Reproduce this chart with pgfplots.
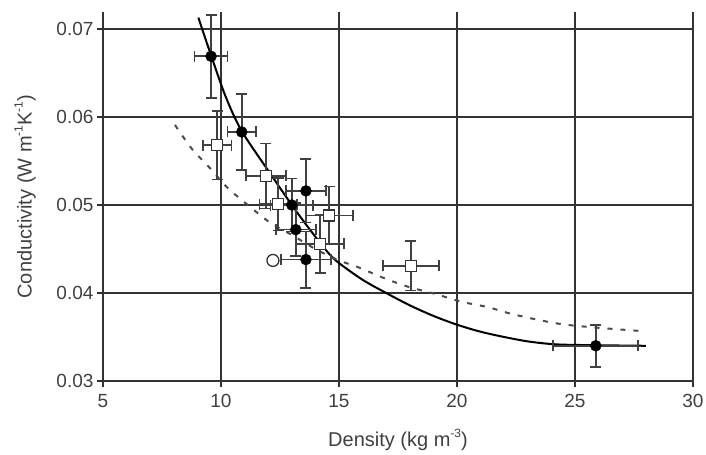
\documentclass[border=0pt]{standalone}
\usepackage{fontspec}
\setmainfont{Liberation Sans}
\usepackage{graphicx}
\usepackage{pgfplots}
\usepackage{pgfplotstable}
\pgfplotsset{compat=1.18}

\definecolor{txt}{gray}{0.25}
\definecolor{gridc}{gray}{0.2}
\definecolor{errc}{gray}{0.25}
\newcommand\sups[1]{\raisebox{0.45em}{\fontsize{12bp}{14bp}\selectfont #1}}

% filled circles: density, conductivity, x error, y error
\pgfplotstableread{
x y ex ey
9.58 0.0669 0.70 0.0047
10.88 0.0583 0.60 0.0043
13.60 0.0516 0.85 0.0036
13.00 0.0500 0.90 0.0030
13.17 0.0472 0.85 0.0030
13.60 0.0438 1.05 0.0032
25.88 0.0340 1.80 0.0024
}\filled

% open squares
\pgfplotstableread{
x y ex ey
9.84 0.0568 0.60 0.0039
11.90 0.0533 0.85 0.0037
12.43 0.0501 0.80 0.0030
14.58 0.0488 1.00 0.0033
14.20 0.0456 1.00 0.0033
18.05 0.0431 1.20 0.0028
}\squares

\begin{document}
\begin{tikzpicture}
\begin{axis}[
  scale only axis,
  width=590bp, height=368.7bp,
  xmin=5, xmax=30, ymin=0.03, ymax=0.0719,
  axis lines*=left,
  axis line style={gridc, line width=1.5bp},
  xtick={5,10,...,30},
  xticklabels={5,10,15,20,25,30},
  ytick={0.03,0.04,0.05,0.06,0.07},
  yticklabels={0.03,0.04,0.05,0.06,0.07},
  scaled y ticks=false,
  tick align=center,
  major tick length=12bp,
  tick style={gridc, line width=1.3bp},
  grid=major,
  major grid style={gridc, line width=1.5bp},
  tick label style={font=\fontsize{19bp}{22bp}\selectfont, text=txt},
  xticklabel style={yshift=-4bp},
  label style={font=\fontsize{20bp}{24bp}\selectfont, text=txt},
  xlabel={Density (kg m\sups{-3})},
  ylabel={Conductivity (W m\sups{-1}K\sups{-1})},
  xlabel style={at={(axis description cs:0.5,-0.16)}, anchor=center},
  ylabel style={at={(axis description cs:-0.132,0.5)}, anchor=center},
  clip=false,
]
% fitted curves
\addplot[black, line width=2bp, smooth] coordinates {
(9.04,0.0713) (9.58,0.0670) (10.2,0.0623) (10.88,0.0584) (12.08,0.0536)
(13.0,0.0500) (13.6,0.0478) (14.2,0.0457) (14.6,0.0444) (15.0,0.0434)
(16.0,0.0415) (17.0,0.0400) (18.0,0.0386) (19.0,0.0374) (20.0,0.0364)
(21.0,0.0356) (22.0,0.0350) (23.0,0.0345) (24.0,0.0342) (25.0,0.0341)
(28.0,0.0340)
};
\addplot[black!70, line width=2bp, dash pattern=on 5bp off 8bp, smooth] coordinates {
(8.05,0.0591) (8.76,0.0564) (9.53,0.0542) (10.3,0.0519) (11.23,0.0498)
(12.08,0.0480) (13.0,0.0466) (14.0,0.0450) (15.0,0.0437) (15.75,0.0430)
(16.9,0.0417) (17.94,0.0407) (19.07,0.0399) (20.2,0.0390) (21.3,0.0384)
(22.5,0.0375) (24.6,0.0364) (27.7,0.0357)
};
% measurements
\addplot[only marks, mark=*, mark size=5.5bp, black,
  error bars/.cd, x dir=both, x explicit, y dir=both, y explicit,
  error bar style={line width=1.7bp, errc},
  error mark options={rotate=90, line width=1.7bp, errc, mark size=5.5bp}]
  table[x=x, y=y, x error=ex, y error=ey] {\filled};
\addplot[only marks, mark=square*, mark size=5.5bp, draw=black!80, fill=white, line width=1.3bp,
  error bars/.cd, x dir=both, x explicit, y dir=both, y explicit,
  error bar style={line width=1.7bp, errc},
  error mark options={rotate=90, line width=1.7bp, errc, mark size=5.5bp}]
  table[x=x, y=y, x error=ex, y error=ey] {\squares};
\addplot[only marks, mark=*, mark size=6bp, draw=black!80, fill=white, line width=1.3bp]
  coordinates {(12.2,0.0437)};
\end{axis}
\pgfresetboundingbox
\path ([shift={(-103bp,-74bp)}]current axis.south west) rectangle ([shift={(13bp,12.3bp)}]current axis.north east);
\end{tikzpicture}
\end{document}
